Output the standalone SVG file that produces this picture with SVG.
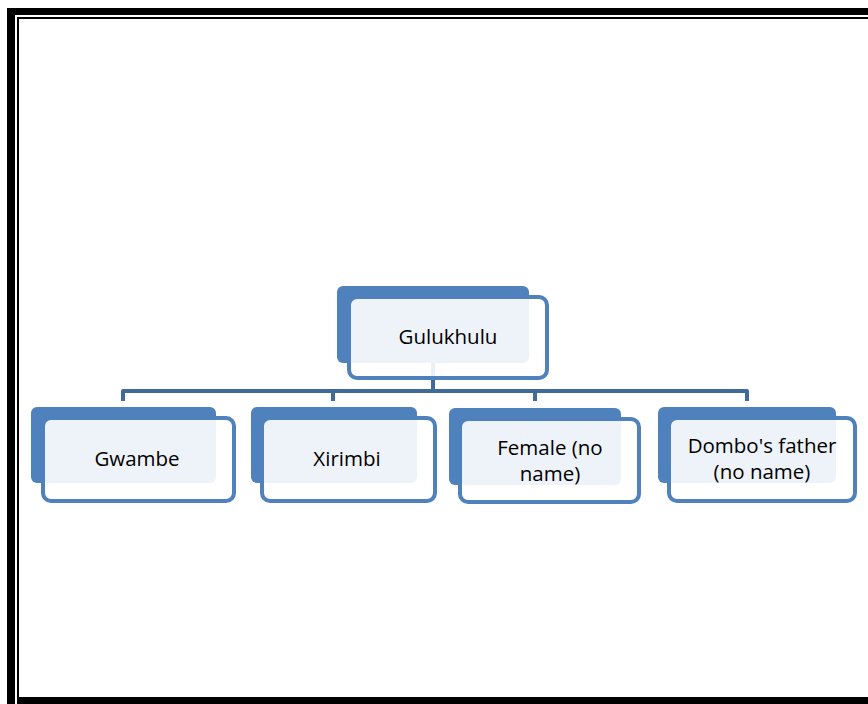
<svg xmlns="http://www.w3.org/2000/svg" width="868" height="704" viewBox="0 0 868 704">
<style>
.back{fill:#4F81BD}
.front{fill:#FFFFFF;fill-opacity:0.9;stroke:#4F81BD;stroke-width:4}
.lbl{font-family:"Open Sans","Liberation Sans",sans-serif;font-size:20.5px;fill:#000;text-anchor:middle}
.conn{fill:none;stroke:#41699A;stroke-width:4;stroke-linejoin:round;stroke-linecap:butt}
</style>
<rect width="868" height="704" fill="#fff"/>
<g id="border">
<rect x="7" y="8" width="861" height="7" fill="#000"/>
<rect x="7" y="8" width="8" height="696" fill="#000"/>
<rect x="17" y="17" width="851" height="2" fill="#000"/>
<rect x="17" y="17" width="2" height="687" fill="#000"/>
<rect x="17" y="697" width="851" height="7" fill="#000"/>
</g>
<g id="connectors">
<path class="conn" d="M433,363 V391"/>
<path class="conn" d="M123,401 V391 H747 V401"/>
<path class="conn" d="M333,391 V401"/>
<path class="conn" d="M535,391 V401"/>
</g>
<g id="gulukhulu">
<rect class="back" x="337" y="286" width="192" height="77" rx="6"/>
<rect class="front" x="349" y="297" width="198" height="81" rx="8"/>
<text class="lbl" x="448" y="344">Gulukhulu</text>
</g>
<g id="gwambe">
<rect class="back" x="31" y="407" width="185" height="76" rx="6"/>
<rect class="front" x="43" y="418" width="191" height="83" rx="8"/>
<text class="lbl" x="137" y="466">Gwambe</text>
</g>
<g id="xirimbi">
<rect class="back" x="251" y="407" width="166" height="76" rx="6"/>
<rect class="front" x="262" y="418" width="173" height="83" rx="8"/>
<text class="lbl" x="347" y="466">Xirimbi</text>
</g>
<g id="female">
<rect class="back" x="449" y="408" width="172" height="77" rx="6"/>
<rect class="front" x="460" y="419" width="179" height="83" rx="8"/>
<text class="lbl" x="550" y="455">Female (no</text>
<text class="lbl" x="550" y="481">name)</text>
</g>
<g id="dombo">
<rect class="back" x="658" y="407" width="178" height="76" rx="6"/>
<rect class="front" x="669" y="418" width="186" height="83" rx="8"/>
<text class="lbl" x="762" y="453">Dombo's father</text>
<text class="lbl" x="762" y="479">(no name)</text>
</g>
</svg>
